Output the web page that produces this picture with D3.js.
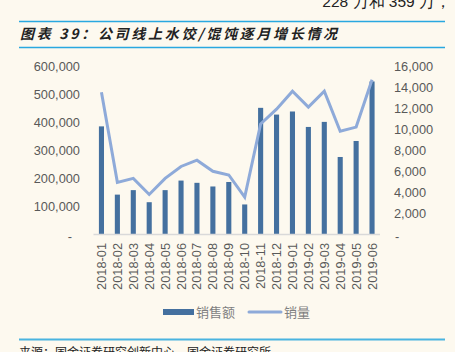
<!DOCTYPE html>
<html lang="zh">
<head>
<meta charset="UTF-8">
<script src="https://d3js.org/d3.v7.min.js"></script>
<style>
  html, body { margin: 0; padding: 0; background: #fdf9ef; }
  svg { display: block; font-family: "Liberation Sans", Arial, sans-serif; }
</style>
</head>
<body>
<script>
// months on x axis
const months = ["2018-01","2018-02","2018-03","2018-04","2018-05","2018-06","2018-07","2018-08","2018-09",
  "2018-10","2018-11","2018-12","2019-01","2019-02","2019-03","2019-04","2019-05","2019-06"];
// 销售额 (left axis)
const sales = [385000,142000,158000,115000,158000,192000,184000,171000,187000,
  107000,451000,427000,438000,383000,401000,276000,333000,545000];
// 销量 (right axis)
const volume = [13500,4950,5330,3800,5330,6460,7060,6000,5650,
  3550,10500,11900,13600,12100,13600,9800,10200,14700];
const leftTicks = [0,100000,200000,300000,400000,500000,600000];
const rightTicks = [0,2000,4000,6000,8000,10000,12000,14000,16000];

const W = 455, H = 352;
const svg = d3.select("body").append("svg").attr("width", W).attr("height", H);
svg.append("rect").attr("width", W).attr("height", H).attr("fill", "#fdf9ef");

// page text around the chart
svg.append("text").attr("x", 451).attr("y", 7).attr("text-anchor", "end")
  .style("font-size", "15.5px").attr("fill", "#222")
  .text("228 万和 359 万，");
svg.append("line").attr("x1", 19).attr("x2", 445).attr("y1", 21.5).attr("y2", 21.5)
  .attr("stroke", "#29a8e0").attr("stroke-width", 1.5);
svg.append("line").attr("x1", 19).attr("x2", 445).attr("y1", 47.5).attr("y2", 47.5)
  .attr("stroke", "#29a8e0").attr("stroke-width", 1.5);
svg.append("text").attr("x", 20).attr("y", 39)
  .style("font-family", "'Noto Sans CJK SC', sans-serif").style("font-size", "14px")
  .style("font-style", "italic").style("font-weight", "bold").style("letter-spacing", "2.7px")
  .attr("fill", "#222").text("图表 39：公司线上水饺/馄饨逐月增长情况");
svg.append("line").attr("x1", 19).attr("x2", 445).attr("y1", 339.5).attr("y2", 339.5)
  .attr("stroke", "#4ab4e0").attr("stroke-width", 2);
svg.append("text").attr("x", 19).attr("y", 357)
  .style("font-family", "'Noto Sans CJK SC', sans-serif").style("font-size", "12px")
  .attr("fill", "#222").text("来源：国金证券研究创新中心，国金证券研究所");

// scales
const x = d3.scaleBand().domain(months).range([93.5, 380]).paddingInner(0.68).paddingOuter(0.34);
const xc = d => x(d) + x.bandwidth() / 2;
const yL = d3.scaleLinear().domain([0, 600000]).range([234.5, 66]);
const yR = d3.scaleLinear().domain([0, 16000]).range([234.5, 66]);
const fmt = d3.format(",");

const tickStyle = s => s.style("font-size", "12.8px").attr("fill", "#595959");

// left axis
const gl = svg.append("g").attr("transform", "translate(80,0)")
  .call(d3.axisLeft(yL).tickValues(leftTicks).tickSize(0).tickPadding(0)
    .tickFormat(d => d === 0 ? "-" : fmt(d)));
gl.select(".domain").remove();
gl.selectAll("text").call(tickStyle).attr("dy", "0.35em");
gl.selectAll(".tick").filter(d => d === 0).select("text").attr("x", -8).attr("dy", "0.5em");

// right axis
const gr = svg.append("g").attr("transform", "translate(394,0)")
  .call(d3.axisRight(yR).tickValues(rightTicks).tickSize(0).tickPadding(0)
    .tickFormat(d => d === 0 ? "-" : fmt(d)));
gr.select(".domain").remove();
gr.selectAll("text").call(tickStyle).attr("dy", "0.35em");
gr.selectAll(".tick").filter(d => d === 0).select("text").attr("x", 1).attr("dy", "0.5em");

// bars
svg.append("g").selectAll("rect").data(months).join("rect")
  .attr("x", d => x(d)).attr("width", x.bandwidth())
  .attr("y", (d, i) => yL(sales[i])).attr("height", (d, i) => yL(0) - yL(sales[i]))
  .attr("fill", "#44709f");

// x axis line
svg.append("line").attr("x1", 93.5).attr("x2", 380).attr("y1", 234.5).attr("y2", 234.5)
  .attr("stroke", "#d9d9d9").attr("stroke-width", 1.5);

// line series
const line = d3.line().x((d, i) => xc(months[i])).y(d => yR(d));
svg.append("path").datum(volume).attr("d", line).attr("fill", "none")
  .attr("stroke", "#8eaad9").attr("stroke-width", 3).attr("stroke-linejoin", "miter");

// x labels
const gx = svg.append("g").attr("transform", "translate(0,243)")
  .call(d3.axisBottom(x).tickSize(0).tickPadding(0));
gx.select(".domain").remove();
gx.selectAll("text").call(tickStyle)
  .attr("transform", "rotate(-90)").attr("text-anchor", "end").attr("x", 0).attr("y", 0).attr("dy", "0.35em");

// legend
const lg = svg.append("g");
lg.append("rect").attr("x", 163).attr("y", 309).attr("width", 31).attr("height", 6).attr("fill", "#44709f");
lg.append("text").attr("x", 196).attr("y", 317)
  .style("font-family", "'Noto Sans CJK SC', sans-serif").style("font-size", "13px").attr("fill", "#7f7f7f").text("销售额");
lg.append("line").attr("x1", 249).attr("x2", 281).attr("y1", 312).attr("y2", 312)
  .attr("stroke", "#8eaad9").attr("stroke-width", 3).attr("stroke-linecap", "round");
lg.append("text").attr("x", 284).attr("y", 317)
  .style("font-family", "'Noto Sans CJK SC', sans-serif").style("font-size", "13px").attr("fill", "#7f7f7f").text("销量");
</script>
</body>
</html>
